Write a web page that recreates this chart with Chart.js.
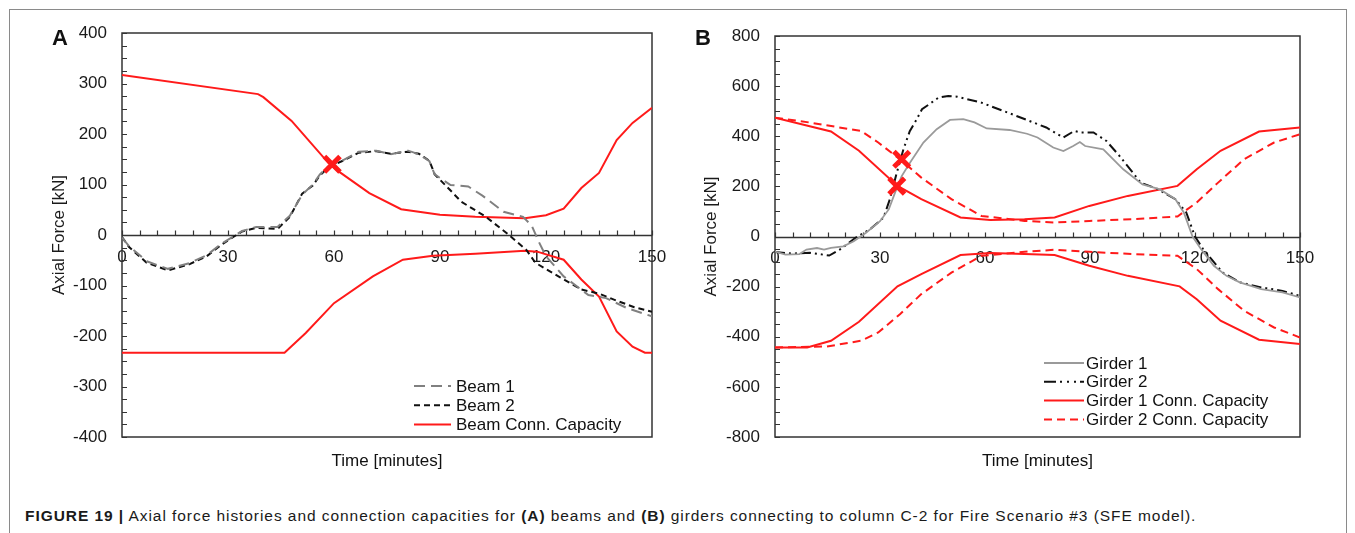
<!DOCTYPE html>
<html>
<head>
<meta charset="utf-8">
<script src="https://cdn.jsdelivr.net/npm/chart.js@4.4.1/dist/chart.umd.min.js"></script>
<style>
  html, body { margin: 0; padding: 0; background: #fff; }
  body { width: 1355px; height: 533px; position: relative; overflow: hidden;
         font-family: "Liberation Sans", Arial, sans-serif; }
  #frame { position: absolute; left: 9px; top: 9px; width: 1336px; height: 540px;
           border: 1px solid #8a8a8a; }
  #wrapA { position: absolute; left: 0; top: 0; width: 680px; height: 480px; }
  #wrapB { position: absolute; left: 680px; top: 0; width: 675px; height: 480px; }
  #caption { position: absolute; left: 25px; top: 507px; font-size: 15.5px; color: #1a1a1a;
             white-space: nowrap; line-height: 18px; letter-spacing: 0.94px; }
  #caption b { font-weight: bold; }
</style>
</head>
<body>
<div id="frame"></div>
<div id="wrapA"><canvas id="chartA" width="680" height="480"></canvas></div>
<div id="wrapB"><canvas id="chartB" width="675" height="480"></canvas></div>
<div id="caption"><b>FIGURE 19 |</b> Axial force histories and connection capacities for <b>(A)</b> beams and <b>(B)</b> girders connecting to column C-2 for Fire Scenario #3 (SFE model).</div>

<script>
// ---------- Panel A: beams ----------
const beam1Time = [0, 2, 7, 13, 19, 24, 28, 31.5, 34, 38, 44, 47.5, 51, 54, 56, 58.5, 62.5, 67, 72, 76, 81, 84, 87, 88.5, 93, 98, 102, 108, 113.5, 116, 118, 120, 125, 132, 137, 143, 150];
const beam1Force = [-5, -22, -52, -67, -56, -40, -18, -3, 8, 16, 16, 38, 80, 100, 120, 136, 148, 165, 167, 160, 167, 160, 146, 120, 99, 96, 78, 46, 36, 18, -14, -42, -82, -119, -125, -145, -161];

const beam2Time = [0, 2, 7, 13, 19, 24, 28, 31.5, 34, 38, 44, 47.5, 51, 54, 56, 58.5, 62.5, 67, 72, 76, 81, 84, 87, 88.5, 93, 96, 103, 109, 114.5, 117, 124, 130, 135, 140, 145, 150];
const beam2Force = [-4, -24, -55, -70, -58, -42, -20, -4, 7, 14, 12, 36, 82, 98, 118, 134, 147, 163, 166, 161, 165, 161, 147, 120, 88, 66, 36, 3, -30, -55, -84, -108, -116, -130, -143, -152];

const beamCapTopTime = [0, 38.5, 40, 48, 58.5, 61.5, 70, 79, 90, 100, 114, 120, 125, 130, 135, 140, 144.5, 150];
const beamCapTop = [317, 279, 273, 226, 142, 125, 83, 51, 40, 36, 33, 39, 52, 93, 123, 188, 222, 252];
const beamCapBotTime = [0, 46, 52, 60, 71, 79.5, 88, 100, 114, 117.5, 125, 130, 135, 140, 144.5, 148, 150];
const beamCapBot = [-233, -233, -194, -135, -82, -49, -41, -37, -31, -33, -49, -88, -122, -191, -221, -233, -233];

const beamFailTime = [59.5];
const beamFailForce = [140];

// ---------- Panel B: girders ----------
const girder1Time = [0, 3, 7, 9, 12, 14, 16, 19.5, 22.5, 26, 30, 32.5, 34.3, 36.2, 38.6, 42.4, 46.2, 50, 53.8, 57, 60.5, 67, 72, 75, 79.5, 82.4, 85.2, 87.1, 88.6, 93.8, 99.5, 105, 110, 114.4, 116.8, 119.3, 121.7, 125.4, 129, 132.8, 138.9, 145, 150];
const girder1Force = [-60, -72, -70, -52, -46, -52, -45, -39, -19, 15, 61, 108, 175, 241, 295, 375, 428, 465, 468, 455, 431, 425, 410, 395, 355, 341, 361, 377, 361, 348, 268, 208, 188, 149, 96, 0, -50, -117, -157, -183, -210, -223, -243];

const girder2Time = [0, 5, 10, 15.5, 19, 23, 27, 31, 32.8, 34.8, 36.7, 38.5, 40.5, 42, 44.3, 46.7, 49.5, 52, 59, 69, 77.5, 82.4, 85.5, 87.3, 91, 94.7, 98.4, 104.5, 109.4, 114.4, 117.5, 120, 122.3, 127.9, 132.8, 138.9, 145, 150];
const girder2Force = [-62, -68, -65, -76, -48, -5, 27, 75, 148, 255, 348, 420, 468, 508, 530, 554, 561, 558, 534, 481, 435, 395, 421, 415, 415, 381, 322, 215, 189, 149, 96, 0, -50, -144, -183, -203, -217, -237];

const girder1CapTopTime = [0, 16, 24, 35, 41.8, 53, 61.5, 71.3, 79.9, 89.8, 100.8, 115, 120.5, 127.3, 138.3, 150];
const girder1CapTop = [474, 419, 342, 202, 149, 76, 66, 69, 76, 122, 162, 202, 268, 342, 419, 435];
const girder1CapBotTime = [0, 9.2, 16, 24, 35, 41.8, 53, 61.5, 71.3, 79.9, 89.8, 100.8, 115.6, 120.5, 127.3, 138.3, 150];
const girder1CapBot = [-443, -443, -416, -340, -199, -150, -74, -66, -70, -74, -117, -157, -199, -250, -336, -412, -429];

const girder2CapTopTime = [0, 9.8, 24.6, 29.5, 35.7, 41.8, 50.4, 59, 71.3, 79.9, 89.8, 102, 115, 120.5, 126.6, 134, 142.6, 150];
const girder2CapTop = [474, 455, 421, 375, 308, 235, 149, 82, 62, 56, 62, 69, 80, 136, 215, 308, 375, 408];
const girder2CapBotTime = [0, 14.8, 24.6, 29.5, 35.7, 41.8, 50.4, 59, 71.3, 79.9, 89.8, 102, 115, 120.5, 126.6, 134, 142.6, 150];
const girder2CapBot = [-443, -439, -416, -383, -310, -230, -144, -77, -61, -53, -61, -70, -77, -130, -210, -296, -363, -403];

const girderFailTime = [34.8, 36.2];
const girderFailForce = [201, 308];

// ---------- Axis ranges and tick labels ----------
const timeTicks = [0, 30, 60, 90, 120, 150];
const forceTicksA = [-400, -300, -200, -100, 0, 100, 200, 300, 400];
const forceTicksB = [-800, -600, -400, -200, 0, 200, 400, 600, 800];

const pts = (t, v) => t.map((x, i) => ({ x, y: v[i] }));

const RED = '#ff1a1a';
Chart.defaults.font.family = '"Liberation Sans", Arial, sans-serif';
Chart.defaults.font.size = 17;
Chart.defaults.color = '#1a1a1a';

// Frame, zero axis, minor ticks, panel letter, x title and in-plot legend
const panelDecor = {
  id: 'panelDecor',
  beforeDatasetsDraw(chart, args, o) {
    const { ctx, chartArea: a, scales: { x, y } } = chart;
    ctx.save();
    ctx.strokeStyle = '#333';
    ctx.lineWidth = 1.5;
    ctx.strokeRect(a.left, a.top, a.right - a.left, a.bottom - a.top);
    const y0 = Math.round(y.getPixelForValue(0)) + 0.5;
    ctx.beginPath();
    ctx.moveTo(a.left, y0); ctx.lineTo(a.right, y0);
    ctx.stroke();
    ctx.lineWidth = 1.2;
    ctx.beginPath();
    for (let t = x.min; t <= x.max + 1e-6; t += o.xMinor) {
      const px = Math.round(x.getPixelForValue(t)) + 0.5;
      ctx.moveTo(px, y0); ctx.lineTo(px, y0 - 5);
    }
    for (let v = y.min; v <= y.max + 1e-6; v += o.yMinor) {
      const py = Math.round(y.getPixelForValue(v)) + 0.5;
      ctx.moveTo(a.left, py); ctx.lineTo(a.left + 5, py);
    }
    ctx.stroke();
    ctx.restore();
  },
  afterDraw(chart, args, o) {
    const { ctx, chartArea: a } = chart;
    ctx.save();
    ctx.fillStyle = '#111';
    ctx.textBaseline = 'middle';
    ctx.font = 'bold 22px "Liberation Sans", Arial, sans-serif';
    ctx.textAlign = 'left';
    ctx.fillText(o.letter, o.letterX, o.letterY);
    ctx.font = '17px "Liberation Sans", Arial, sans-serif';
    ctx.textAlign = 'center';
    ctx.fillText('Time [minutes]', (a.left + a.right) / 2, a.bottom + 24);
    // legend
    ctx.textAlign = 'left';
    o.legend.forEach((idx, row) => {
      const ds = chart.data.datasets[idx];
      const ly = o.legendY + row * o.legendRow;
      ctx.save();
      ctx.strokeStyle = ds.borderColor;
      ctx.lineWidth = ds.borderWidth;
      ctx.setLineDash(ds.legendDash || ds.borderDash || []);
      ctx.beginPath();
      ctx.moveTo(o.legendX, ly); ctx.lineTo(o.legendX + o.legendLine, ly);
      ctx.stroke();
      ctx.restore();
      ctx.fillStyle = '#111';
      ctx.fillText(ds.label, o.legendX + o.legendLine + o.legendGap, ly + 1);
    });
    ctx.restore();
  }
};

function lineDs(label, data, color, width, dash, extra) {
  return Object.assign({
    label, data, borderColor: color, borderWidth: width, borderDash: dash || [],
    pointRadius: 0, tension: 0, fill: false
  }, extra || {});
}

function markerDs(data) {
  return {
    label: '', data, showLine: false, order: -1,
    pointStyle: 'crossRot', pointRadius: 11, pointBorderWidth: 5,
    pointBorderColor: RED, pointBackgroundColor: RED, borderColor: RED
  };
}

function makeOptions(yTicks, padding, yWidth, titlePad, decor) {
  return {
    responsive: false,
    devicePixelRatio: 1,
    animation: false,
    events: [],
    layout: { padding },
    plugins: { legend: { display: false }, tooltip: { enabled: false }, panelDecor: decor },
    scales: {
      x: {
        type: 'linear', min: timeTicks[0], max: timeTicks[timeTicks.length - 1],
        position: { y: 0 },
        grid: { display: false, drawTicks: false }, border: { display: false },
        afterBuildTicks: s => { s.ticks = timeTicks.map(v => ({ value: v })); },
        ticks: { padding: 12, maxRotation: 0, autoSkip: false, color: '#1a1a1a' }
      },
      y: {
        type: 'linear', min: yTicks[0], max: yTicks[yTicks.length - 1],
        grid: { display: false, drawTicks: false }, border: { display: false },
        afterBuildTicks: s => { s.ticks = yTicks.map(v => ({ value: v })); },
        afterFit: s => { s.width = yWidth; },
        ticks: { padding: 15, autoSkip: false, color: '#1a1a1a' },
        title: { display: true, text: 'Axial Force [kN]', color: '#1a1a1a',
                 font: { size: 17 }, padding: { top: titlePad, bottom: 0 } }
      }
    }
  };
}

// Panel A chart
const dsA = [
  markerDs(pts(beamFailTime, beamFailForce)),
  lineDs('Beam 1', pts(beam1Time, beam1Force), '#808080', 2, [11, 6]),
  lineDs('Beam 2', pts(beam2Time, beam2Force), '#111', 2, [6, 4]),
  lineDs('Beam Conn. Capacity', pts(beamCapTopTime, beamCapTop), RED, 2),
  lineDs('', pts(beamCapBotTime, beamCapBot), RED, 2)
];
new Chart(document.getElementById('chartA'), {
  type: 'line',
  data: { datasets: dsA },
  options: makeOptions(forceTicksA, { left: 40, right: 28, top: 33, bottom: 43 }, 82, 9, {
    letter: 'A', letterX: 52, letterY: 39, xMinor: 5, yMinor: 25,
    legend: [1, 2, 3], legendX: 414, legendY: 386, legendRow: 19.3, legendLine: 37, legendGap: 5
  }),
  plugins: [panelDecor]
});

// Panel B chart
const dsB = [
  markerDs(pts(girderFailTime, girderFailForce)),
  lineDs('Girder 1', pts(girder1Time, girder1Force), '#9a9a9a', 1.8),
  lineDs('Girder 2', pts(girder2Time, girder2Force), '#111', 2, [10, 4, 2, 4, 2, 4], { legendDash: [12, 4, 2, 5, 2, 5, 2, 4] }),
  lineDs('Girder 1 Conn. Capacity', pts(girder1CapTopTime, girder1CapTop), RED, 2),
  lineDs('Girder 2 Conn. Capacity', pts(girder2CapTopTime, girder2CapTop), RED, 2, [8, 5]),
  lineDs('', pts(girder1CapBotTime, girder1CapBot), RED, 2),
  lineDs('', pts(girder2CapBotTime, girder2CapBot), RED, 2, [8, 5])
];
new Chart(document.getElementById('chartB'), {
  type: 'line',
  data: { datasets: dsB },
  options: makeOptions(forceTicksB, { left: 10, right: 55, top: 36, bottom: 43 }, 85, 11, {
    letter: 'B', letterX: 15, letterY: 39, xMinor: 5, yMinor: 50,
    legend: [1, 2, 3, 4], legendX: 364, legendY: 363, legendRow: 18.8, legendLine: 40, legendGap: 2
  }),
  plugins: [panelDecor]
});
</script>
</body>
</html>
